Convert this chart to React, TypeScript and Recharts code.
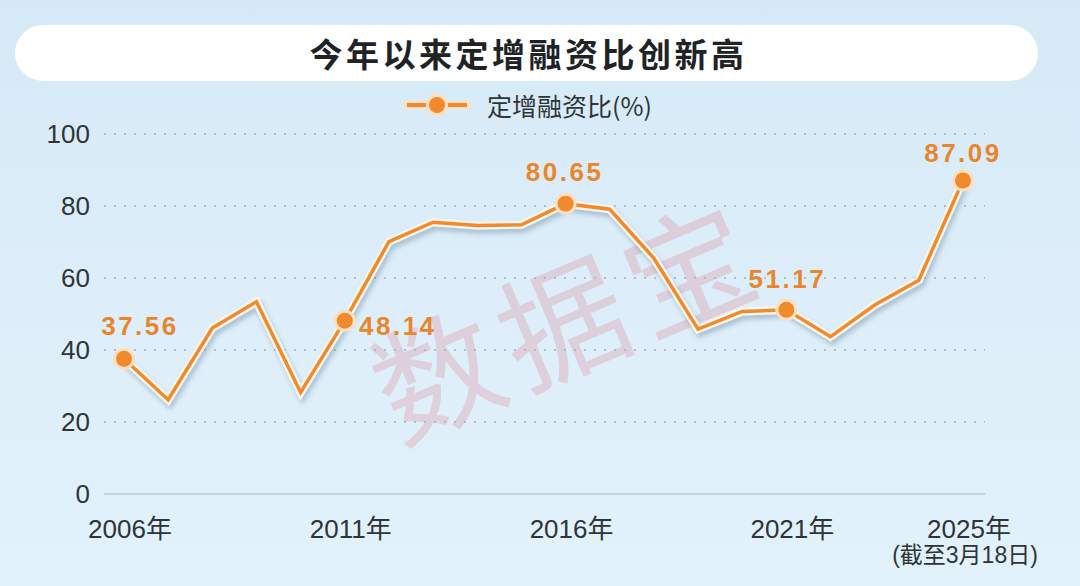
import { LineChart, Line, XAxis, YAxis, CartesianGrid } from 'recharts';

// 定增融资比（%），2006-2025年
const years = [2006, 2007, 2008, 2009, 2010, 2011, 2012, 2013, 2014, 2015, 2016, 2017, 2018, 2019, 2020, 2021, 2022, 2023, 2024, 2025];
const ratios = [37.56, 26.2, 46.1, 53.4, 28.2, 48.14, 70.1, 75.5, 74.6, 74.8, 80.65, 79.1, 65.5, 45.8, 50.7, 51.17, 43.7, 52.5, 59.4, 87.09];
const labeledYears = [2006, 2011, 2016, 2021, 2025];
const yTicks = [0, 20, 40, 60, 80, 100];
const xTicks = [2006, 2011, 2016, 2021, 2025];
const xTickLabels = ['2006年', '2011年', '2016年', '2021年', '2025年'];
const lastTickNote = '(截至3月18日)';

const title = '今年以来定增融资比创新高';
const seriesName = '定增融资比(%)';
const watermark = '数据宝';

const data = years.map((year, i) => ({ year, ratio: ratios[i] }));

const ORANGE = '#f08a2d';
const LABEL_ORANGE = '#e9862c';
const TEXT = '#2f3438';
const FONT = '"Liberation Sans", Arial, "Noto Sans CJK SC", sans-serif';
const CJK = '"Noto Sans CJK SC", "Liberation Sans", sans-serif';

// label placement relative to the dot (dx, dy of label centre)
const labelPos: Record<number, [number, number]> = {
  2006: [16, -33],
  2011: [53, 5],
  2016: [-1, -32],
  2021: [1, -31],
  2025: [0, -28],
};

const Dot = (props: any) => {
  const { cx, cy, payload } = props;
  if (!labeledYears.includes(payload.year)) return <g key={`d${payload.year}`} />;
  const [dx, dy] = labelPos[payload.year];
  return (
    <g key={`d${payload.year}`}>
      <circle cx={cx} cy={cy} r={11} fill="#fde0c2" />
      <circle cx={cx} cy={cy} r={8} fill={ORANGE} />
      <text
        x={cx + dx}
        y={cy + dy}
        dy="0.36em"
        textAnchor="middle"
        fill={LABEL_ORANGE}
        fontSize={26}
        fontWeight={700}
        letterSpacing={2.5}
        fontFamily={FONT}
      >
        {payload.ratio.toFixed(2)}
      </text>
    </g>
  );
};

const XTick = (props: any) => {
  const { x, y, payload } = props;
  const i = xTicks.indexOf(payload.value);
  return (
    <g>
      <text x={x + 6} y={y + 42} textAnchor="middle" fill={TEXT} fontSize={26} fontFamily={FONT}>
        {xTickLabels[i]}
      </text>
      {i === xTicks.length - 1 && (
        <text x={x + 2} y={y + 67} textAnchor="middle" fill={TEXT} fontSize={23} fontFamily={FONT}>
          {lastTickNote}
        </text>
      )}
    </g>
  );
};

export default function App() {
  return (
    <div
      style={{
        position: 'absolute',
        left: 0,
        top: 0,
        width: 1080,
        height: 586,
        overflow: 'hidden',
        background: 'linear-gradient(180deg, #d5e9f6 0%, #ddeefa 50%, #e2f2fb 100%)',
      }}
    >
      <div
        style={{
          position: 'absolute',
          left: 560,
          top: 316,
          fontFamily: CJK,
          fontSize: 126,
          fontWeight: 400,
          letterSpacing: 10,
          paddingLeft: 10,
          color: 'rgba(218, 115, 130, 0.25)',
          transform: 'translate(-50%, -50%) rotate(-23deg)',
          whiteSpace: 'nowrap',
          lineHeight: 1,
        }}
      >
        {watermark}
      </div>

      <div
        style={{
          position: 'absolute',
          left: 15,
          top: 25,
          width: 1023,
          height: 56,
          borderRadius: 28,
          background: '#ffffff',
          display: 'flex',
          alignItems: 'center',
          justifyContent: 'center',
        }}
      >
        <span
          style={{
            fontFamily: CJK,
            fontSize: 33,
            fontWeight: 700,
            letterSpacing: 3.5,
            color: '#1f2326',
            marginLeft: 4,
            lineHeight: 1,
          }}
        >
          {title}
        </span>
      </div>

      <div
        style={{
          position: 'absolute',
          left: 403,
          top: 90,
          height: 30,
          display: 'flex',
          alignItems: 'center',
        }}
      >
        <svg width={68} height={30}>
          <line x1={2} y1={15} x2={66} y2={15} stroke="#fde0c2" strokeWidth={8} strokeLinecap="round" />
          <line x1={4} y1={15} x2={64} y2={15} stroke={ORANGE} strokeWidth={4} />
          <circle cx={34} cy={15} r={11} fill="#fde0c2" />
          <circle cx={34} cy={15} r={8} fill={ORANGE} />
        </svg>
        <span style={{ marginLeft: 16, fontFamily: CJK, fontSize: 25, color: TEXT }}>{seriesName}</span>
      </div>

      <div style={{ position: 'absolute', left: 0, top: 0 }}>
        <LineChart width={1080} height={586} data={data} margin={{ top: 134, right: 95, bottom: 0, left: 0 }}>
          <defs>
            <filter id="lineShadow" x="-10%" y="-10%" width="120%" height="130%">
              <feDropShadow dx={2} dy={4} stdDeviation={2.5} floodColor="#4a6a85" floodOpacity={0.35} />
            </filter>
          </defs>
          <CartesianGrid vertical={false} stroke="#a3b2bd" strokeDasharray="2 8" strokeWidth={1.5} />
          <XAxis
            dataKey="year"
            type="number"
            domain={[2006, 2025]}
            ticks={xTicks}
            padding={{ left: 20, right: 22 }}
            height={92}
            tickSize={0}
            tickLine={false}
            axisLine={{ stroke: '#c4d4df', strokeWidth: 2 }}
            tick={<XTick />}
            interval={0}
          />
          <YAxis
            domain={[0, 100]}
            ticks={yTicks}
            width={104}
            tickSize={0}
            tickMargin={14}
            tickLine={false}
            axisLine={false}
            tick={{ fill: TEXT, fontSize: 26, fontFamily: FONT }}
          />
          <Line
            dataKey="ratio"
            stroke="#fff6ec"
            strokeWidth={8}
            strokeLinejoin="miter"
            dot={false}
            activeDot={false}
            filter="url(#lineShadow)"
            isAnimationActive={false}
          />
          <Line
            dataKey="ratio"
            stroke={ORANGE}
            strokeWidth={3.5}
            strokeLinejoin="miter"
            dot={<Dot />}
            activeDot={false}
            isAnimationActive={false}
          />
        </LineChart>
      </div>
    </div>
  );
}
